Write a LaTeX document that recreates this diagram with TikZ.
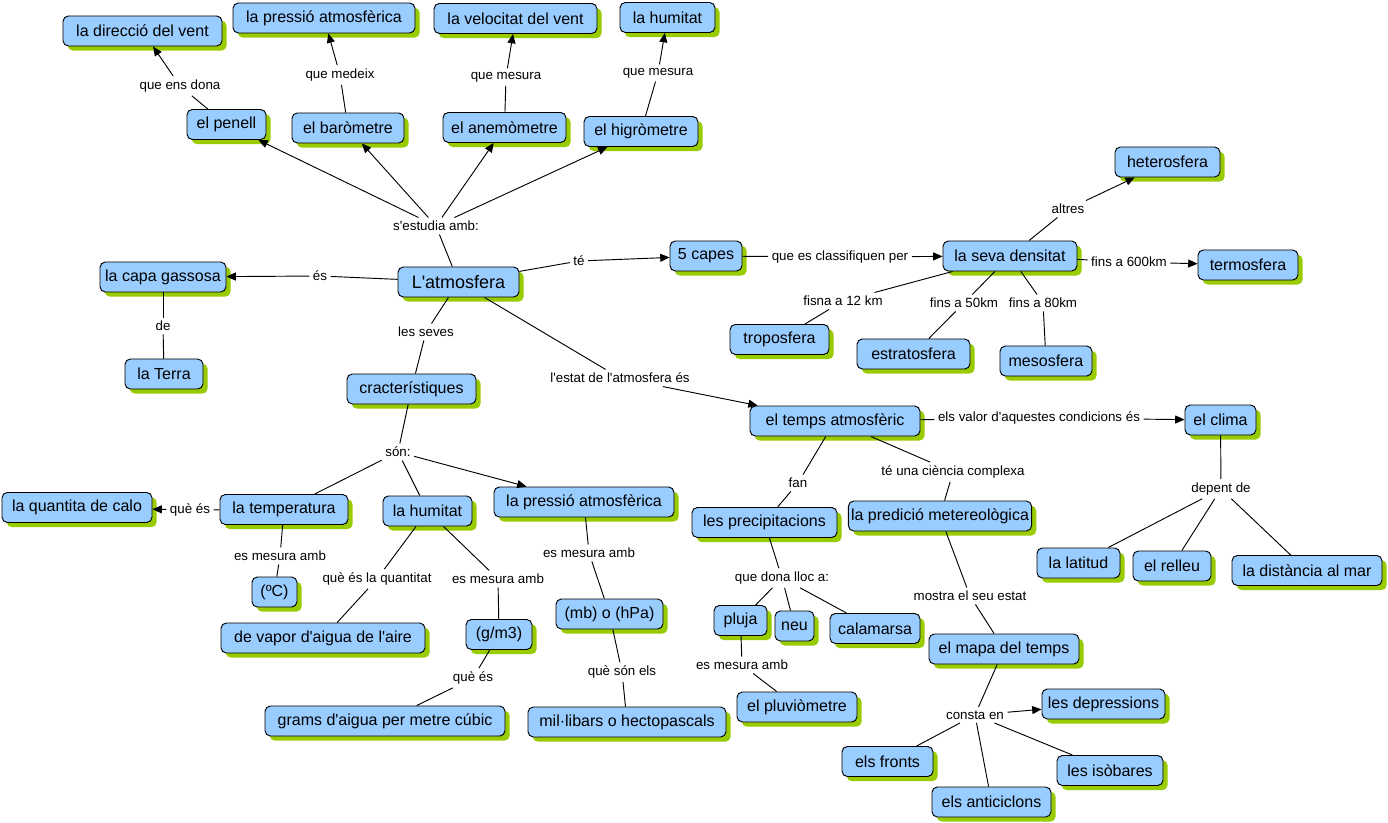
\documentclass[tikz,border=0pt]{standalone}
\usepackage{fontspec}
\setmainfont{Liberation Sans}[Ligatures=TeXOff]
\usetikzlibrary{arrows.meta,shadows}
\definecolor{cfill}{HTML}{99CCFF}
\definecolor{cshadow}{HTML}{99CC00}
\begin{document}
\begin{tikzpicture}[x=0.75pt,y=-0.75pt,
 concept/.style={draw=black, line width=0.7pt, fill=cfill, rounded corners=4pt,
   minimum height=22.5pt, inner sep=2pt, font=\fontsize{12}{14}\selectfont,
   drop shadow={fill=cshadow, draw=none, opacity=1, shadow xshift=3.5pt, shadow yshift=-3.5pt}},
 cw/.style={minimum width=#1*0.75pt},
 phrase/.style={inner sep=2.5pt, font=\fontsize{10}{12}\selectfont},
 link/.style={draw=black, line width=0.7pt},
 arr/.style={link, -{Triangle[length=7pt,width=6pt]}}]
\fill[white] (0,0) rectangle (1388,823);
\useasboundingbox (0,0) rectangle (1388,823);

% concepts
\node[concept,cw=159] (dir) at (142.5,31) {la direcció del vent};
\node[concept,cw=182] (presTop) at (324,18) {la pressió atmosfèrica};
\node[concept,cw=163] (vel) at (515.5,18.5) {la velocitat del vent};
\node[concept,cw=95] (humTop) at (667.5,17.5) {la humitat};
\node[concept,cw=79] (penell) at (226.5,124.5) {el penell};
\node[concept,cw=112] (barom) at (348,128) {el baròmetre};
\node[concept,cw=123] (anem) at (504.5,127.5) {el anemòmetre};
\node[concept,cw=114] (higr) at (641,131.5) {el higròmetre};
\node[concept,cw=105] (heter) at (1167.5,162) {heterosfera};
\node[concept,cw=126] (capa) at (163,277) {la capa gassosa};
\node[concept,cw=121,font=\fontsize{13.5}{16}\selectfont] (atm) at (458.5,282) {L'atmosfera};
\node[concept,cw=72] (capes) at (706,256) {5 capes};
\node[concept,cw=134] (dens) at (1010,256) {la seva densitat};
\node[concept,cw=100] (termo) at (1248,265) {termosfera};
\node[concept,cw=99] (tropo) at (779.5,339.5) {troposfera};
\node[concept,cw=113] (estr) at (913.5,354) {estratosfera};
\node[concept,cw=92] (meso) at (1046,361) {mesosfera};
\node[concept,cw=78] (terra) at (164,374) {la Terra};
\node[concept,cw=129] (caract) at (411.5,389) {cracterístiques};
\node[concept,cw=170] (temps) at (835,421) {el temps atmosfèric};
\node[concept,cw=71] (clima) at (1220.5,420) {el clima};
\node[concept,cw=150] (calo) at (77,507.5) {la quantita de calo};
\node[concept,cw=128] (temp) at (284,509.5) {la temperatura};
\node[concept,cw=89] (humMid) at (427.5,511) {la humitat};
\node[concept,cw=180] (presMid) at (584,502) {la pressió atmosfèrica};
\node[concept,cw=145] (precip) at (764.5,522.5) {les precipitacions};
\node[concept,cw=174] (pred) at (940,516) {la predició metereològica};
\node[concept,cw=83] (latitud) at (1078.5,563) {la latitud};
\node[concept,cw=78] (relleu) at (1172,566) {el relleu};
\node[concept,cw=150] (dist) at (1307,570.5) {la distància al mar};
\node[concept,cw=45] (degC) at (274.5,592) {(ºC)};
\node[concept,cw=204] (vapor) at (323,638) {de vapor d'aigua de l'aire};
\node[concept,cw=66] (gm3) at (499,634.5) {(g/m3)};
\node[concept,cw=107] (mbhpa) at (609.5,614) {(mb) o (hPa)};
\node[concept,cw=53] (pluja) at (740.5,620.5) {pluja};
\node[concept,cw=39] (neu) at (794.5,626) {neu};
\node[concept,cw=90] (calam) at (875,628.5) {calamarsa};
\node[concept,cw=150] (mapa) at (1004,649) {el mapa del temps};
\node[concept,cw=240] (grams) at (385,721) {grams d'aigua per metre cúbic};
\node[concept,cw=198] (mili) at (627,722) {mil·libars o hectopascals};
\node[concept,cw=120] (pluvio) at (797,707) {el pluviòmetre};
\node[concept,cw=123] (depr) at (1103.5,704) {les depressions};
\node[concept,cw=91] (fronts) at (887.5,761.5) {els fronts};
\node[concept,cw=106] (isob) at (1110,770.5) {les isòbares};
\node[concept,cw=119] (antic) at (991.5,802) {els anticiclons};

% linking phrases
\node[phrase] (p1) at (180,86) {que ens dona};
\node[phrase] (p2) at (340,75) {que medeix};
\node[phrase] (p3) at (506,77) {que mesura};
\node[phrase] (p4) at (658,73) {que mesura};
\node[phrase] (p5) at (436,226) {s'estudia amb:};
\node[phrase] (p6) at (1068,209) {altres};
\node[phrase] (p7) at (579,261) {té};
\node[phrase] (p8) at (840,257) {que es classifiquen per};
\node[phrase] (p9) at (1129,262) {fins a 600km};
\node[phrase] (p10) at (320,276) {és};
\node[phrase] (p11) at (163,326) {de};
\node[phrase] (p12) at (426,332) {les seves};
\node[phrase] (p13) at (843,301) {fisna a 12 km};
\node[phrase,inner xsep=0.5pt] (p14) at (964,303) {fins a 50km};
\node[phrase,inner xsep=0.5pt] (p15) at (1043,303) {fins a 80km};
\node[phrase] (p16) at (620,378) {l'estat de l'atmosfera és};
\node[phrase] (p17) at (1039,418) {els valor d'aquestes condicions és};
\node[phrase] (p18) at (398,452) {són:};
\node[phrase] (p19) at (953,472) {té una ciència complexa};
\node[phrase] (p20) at (798,483) {fan};
\node[phrase] (p21) at (1221,489) {depent de};
\node[phrase] (p22) at (190,510) {què és};
\node[phrase] (p23) at (280,556) {es mesura amb};
\node[phrase] (p24) at (589,553) {es mesura amb};
\node[phrase] (p25) at (377,579) {què és la quantitat};
\node[phrase] (p26) at (498,579) {es mesura amb};
\node[phrase] (p27) at (782,578) {que dona lloc a:};
\node[phrase] (p28) at (970,596) {mostra el seu estat};
\node[phrase] (p29) at (742,665) {es mesura amb};
\node[phrase] (p30) at (473,678) {què és};
\node[phrase] (p31) at (622,672) {què són els};
\node[phrase] (p32) at (975,715) {consta en};

% connectors
\draw[link] (atm) -- (p5);
\draw[arr] (p5) -- (penell);
\draw[arr] (p5) -- (barom);
\draw[arr] (p5) -- (anem);
\draw[arr] (p5) -- (higr);
\draw[link] (penell) -- (p1); \draw[arr] (p1) -- (dir);
\draw[link] (barom) -- (p2); \draw[arr] (p2) -- (presTop);
\draw[link] (anem) -- (p3); \draw[arr] (p3) -- (vel);
\draw[link] (higr) -- (p4); \draw[arr] (p4) -- (humTop);
\draw[link] (atm) -- (p7); \draw[arr] (p7) -- (capes);
\draw[link] (capes) -- (p8); \draw[arr] (p8) -- (dens);
\draw[link] (dens) -- (p6); \draw[arr] (p6) -- (heter);
\draw[link] (dens) -- (p9); \draw[arr] (p9) -- (termo);
\draw[link] (dens) -- (p13); \draw[link] (p13) -- (tropo);
\draw[link] (dens) -- (p14); \draw[link] (p14) -- (estr);
\draw[link] (dens) -- (p15); \draw[link] (p15) -- (meso);
\draw[link] (atm) -- (p10); \draw[arr] (p10) -- (capa);
\draw[link] (capa) -- (p11); \draw[link] (p11) -- (terra);
\draw[link] (atm) -- (p12); \draw[link] (p12) -- (caract);
\draw[link] (atm) -- (p16); \draw[arr] (p16) -- (temps);
\draw[link] (temps) -- (p17); \draw[arr] (p17) -- (clima);
\draw[link] (clima) -- (p21);
\draw[link] (p21) -- (latitud);
\draw[link] (p21) -- (relleu);
\draw[link] (p21) -- (dist);
\draw[link] (caract) -- (p18);
\draw[link] (p18) -- (temp);
\draw[link] (p18) -- (humMid);
\draw[arr] (p18) -- (presMid);
\draw[link] (temp) -- (p22); \draw[arr] (p22) -- (calo);
\draw[link] (temp) -- (p23); \draw[link] (p23) -- (degC);
\draw[link] (humMid) -- (p25); \draw[link] (p25) -- (vapor);
\draw[link] (humMid) -- (p26); \draw[link] (p26) -- (gm3);
\draw[link] (gm3) -- (p30); \draw[link] (p30) -- (grams);
\draw[link] (presMid) -- (p24); \draw[link] (p24) -- (mbhpa);
\draw[link] (mbhpa) -- (p31); \draw[link] (p31) -- (mili);
\draw[link] (temps) -- (p20); \draw[link] (p20) -- (precip);
\draw[link] (temps) -- (p19); \draw[link] (p19) -- (pred);
\draw[link] (precip) -- (p27);
\draw[link] (p27) -- (pluja);
\draw[link] (p27) -- (neu);
\draw[link] (p27) -- (calam);
\draw[link] (pluja) -- (p29); \draw[link] (p29) -- (pluvio);
\draw[link] (pred) -- (p28); \draw[link] (p28) -- (mapa);
\draw[link] (mapa) -- (p32);
\draw[arr] (p32) -- (depr);
\draw[link] (p32) -- (fronts);
\draw[link] (p32) -- (antic);
\draw[link] (p32) -- (isob);
\end{tikzpicture}
\end{document}
